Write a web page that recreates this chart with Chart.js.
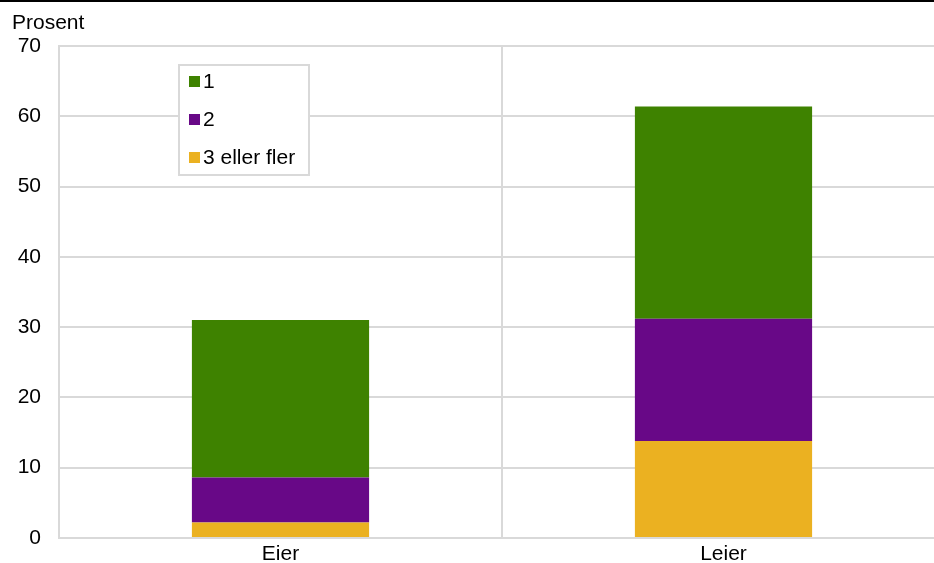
<!DOCTYPE html>
<html>
<head>
<meta charset="utf-8">
<script src="https://cdn.jsdelivr.net/npm/chart.js@4"></script>
<style>
    html, body { margin: 0; padding: 0; background: #fff; }
    #wrap { width: 934px; height: 563px; overflow: hidden; position: relative; }
    #wrap canvas { position: absolute; left: 0; top: 0; }
</style>
</head>
<body>
<div id="wrap"><canvas id="chart" width="950" height="571"></canvas></div>
<script>
const categories = ['Eier', 'Leier'];
const seriesLabels = ['3 eller fler', '2', '1'];
const threeOrMore = [2.2, 13.8];
const two = [6.4, 17.4];
const one = [22.4, 30.2];
const yTicks = [0, 10, 20, 30, 40, 50, 60, 70];

const colors = { '1': '#3e8200', '2': '#680887', '3 eller fler': '#ebb121' };
const fontFamily = '"Liberation Sans", Arial, sans-serif';
const fontSize = 21;

// legend box + "Prosent" + top rule
const extras = {
    id: 'extras',
    afterDraw(chart) {
        const ctx = chart.ctx;
        ctx.save();
        ctx.fillStyle = '#000';
        ctx.fillRect(0, 0, 950, 2);

        ctx.font = fontSize + 'px ' + fontFamily;
        ctx.textBaseline = 'middle';
        ctx.textAlign = 'left';
        ctx.fillText('Prosent', 12, 23);

        ctx.fillStyle = '#fff';
        ctx.fillRect(179, 65, 130, 110);
        ctx.strokeStyle = '#d9d9d9';
        ctx.lineWidth = 2;
        ctx.strokeRect(179, 65, 130, 110);

        const items = chart.data.datasets.slice().reverse();
        items.forEach((ds, i) => {
            const y = 81 + i * 38;
            ctx.fillStyle = ds.backgroundColor;
            ctx.fillRect(189, y - 5, 11, 11);
            ctx.fillStyle = '#000';
            ctx.fillText(ds.label, 203, y + 1);
        });
        ctx.restore();
    }
};

new Chart(document.getElementById('chart'), {
    type: 'bar',
    data: {
        labels: categories,
        datasets: [
            { label: seriesLabels[0], data: threeOrMore, backgroundColor: colors['3 eller fler'] },
            { label: seriesLabels[1], data: two, backgroundColor: colors['2'] },
            { label: seriesLabels[2], data: one, backgroundColor: colors['1'] }
        ]
    },
    options: {
        responsive: false,
        animation: false,
        layout: { padding: { top: 46, right: 5, left: 0, bottom: 0 } },
        datasets: { bar: { barPercentage: 0.4, categoryPercentage: 1, borderWidth: 0 } },
        plugins: { legend: { display: false }, tooltip: { enabled: false } },
        scales: {
            x: {
                stacked: true,
                grid: { offset: true, color: '#d9d9d9', lineWidth: 2, drawTicks: false },
                border: { color: '#d9d9d9', width: 2 },
                ticks: { color: '#000', font: { size: fontSize, family: fontFamily, lineHeight: 1.1 }, padding: 5 }
            },
            y: {
                stacked: true,
                min: 0,
                max: 70,
                afterFit: s => { s.width = 59; },
                afterBuildTicks: s => { s.ticks = yTicks.map(v => ({ value: v })); },
                grid: { color: '#d9d9d9', lineWidth: 2, drawTicks: false },
                border: { color: '#d9d9d9', width: 2 },
                ticks: { color: '#000', font: { size: fontSize, family: fontFamily }, padding: 18 }
            }
        }
    },
    plugins: [extras]
});
</script>
</body>
</html>
